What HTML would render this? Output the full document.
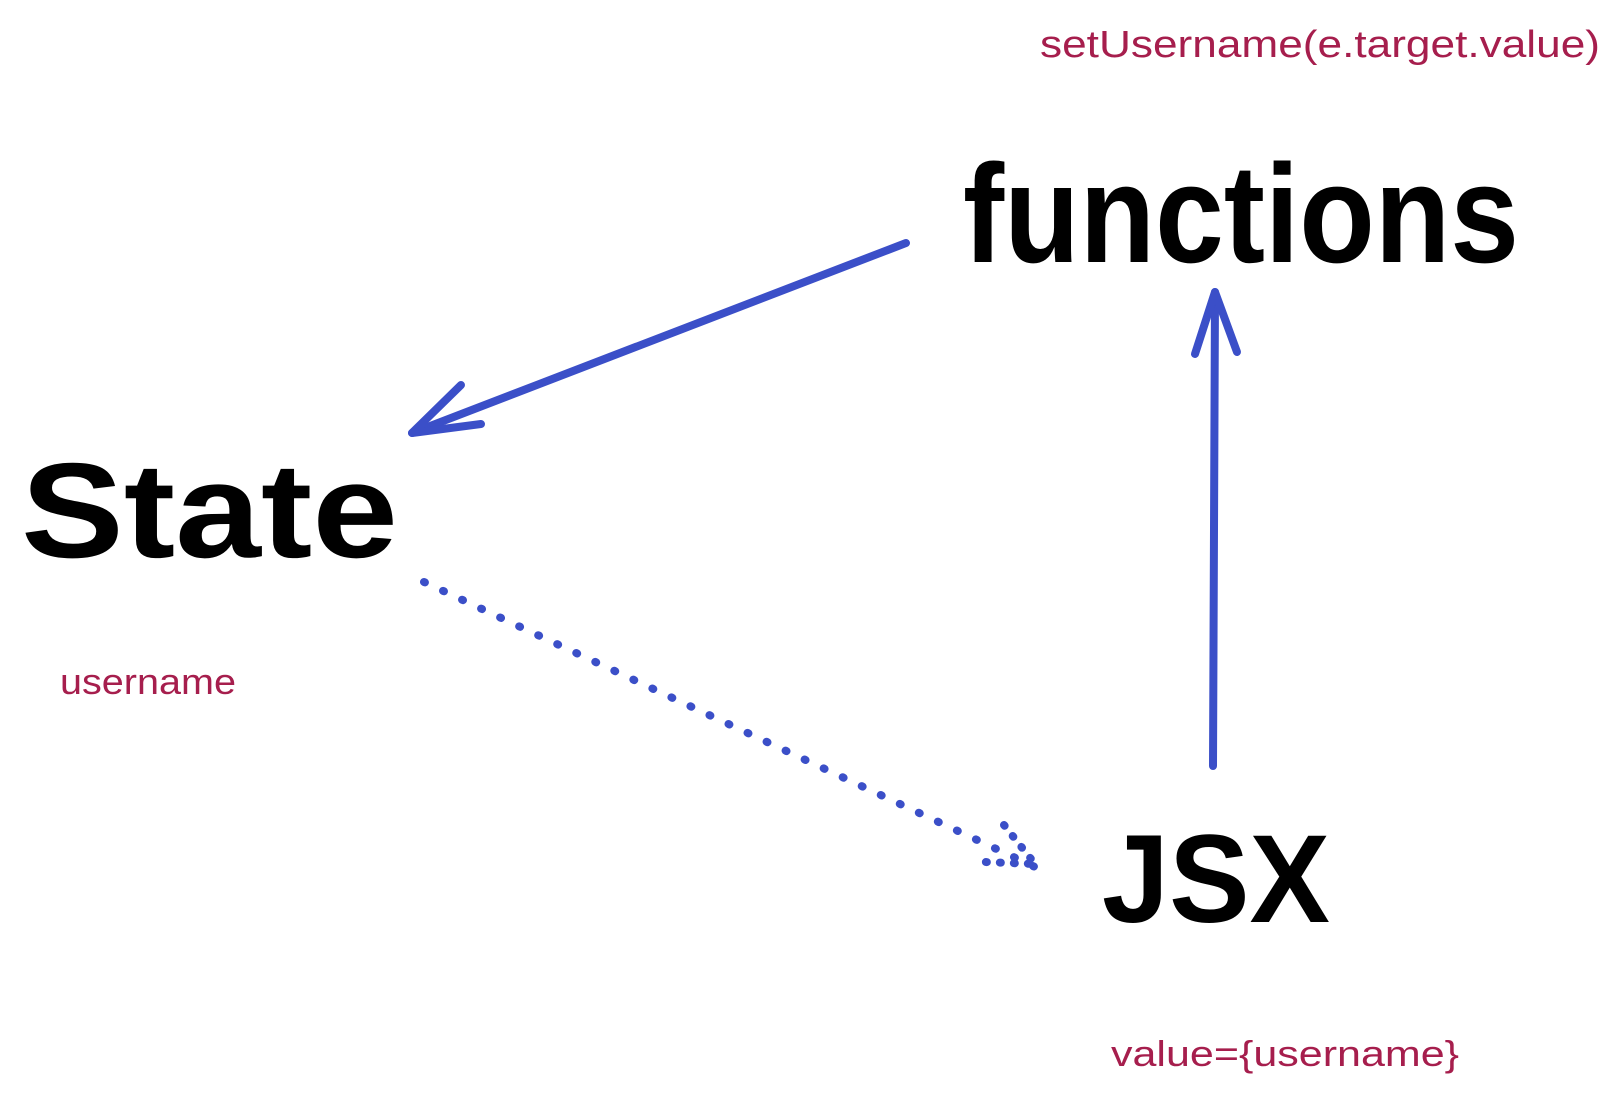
<!DOCTYPE html>
<html><head><style>
html,body{margin:0;padding:0;background:#fff;}
svg{display:block;}
</style></head><body>
<svg width="1615" height="1095" viewBox="0 0 1615 1095" xmlns="http://www.w3.org/2000/svg">
<g font-family="'Comic Sans MS','Liberation Sans',sans-serif">
<text x="1040" y="57" font-size="38" fill="#a61e4d" textLength="560" lengthAdjust="spacingAndGlyphs">setUsername(e.target.value)</text>
<text x="963" y="262" font-size="140" font-weight="bold" fill="#000" textLength="556" lengthAdjust="spacingAndGlyphs">functions</text>
<text x="21" y="557" font-size="135" font-weight="bold" fill="#000" textLength="377" lengthAdjust="spacingAndGlyphs">State</text>
<text x="60" y="694" font-size="36" fill="#a61e4d" textLength="176" lengthAdjust="spacingAndGlyphs">username</text>
<text x="1102" y="922" font-size="125" font-weight="bold" fill="#000" textLength="228" lengthAdjust="spacingAndGlyphs">JSX</text>
<text x="1111" y="1066" font-size="36" fill="#a61e4d" textLength="348" lengthAdjust="spacingAndGlyphs">value={username}</text>
</g>
<g stroke="#3b4fc8" stroke-width="8" fill="none" stroke-linecap="round" stroke-linejoin="round">
<path d="M906 243 L412 433"/>
<path d="M461 385 L412 433 L481 424"/>
<path d="M1213 766 L1215 292"/>
<path d="M1195 354 L1215 292 L1237 352"/>
<path d="M424 582 L1035 867" stroke-dasharray="1 20"/>
<path d="M1004 825 L1035 864 L985 862" stroke-dasharray="1 13"/>
</g>
</svg>
</body></html>
